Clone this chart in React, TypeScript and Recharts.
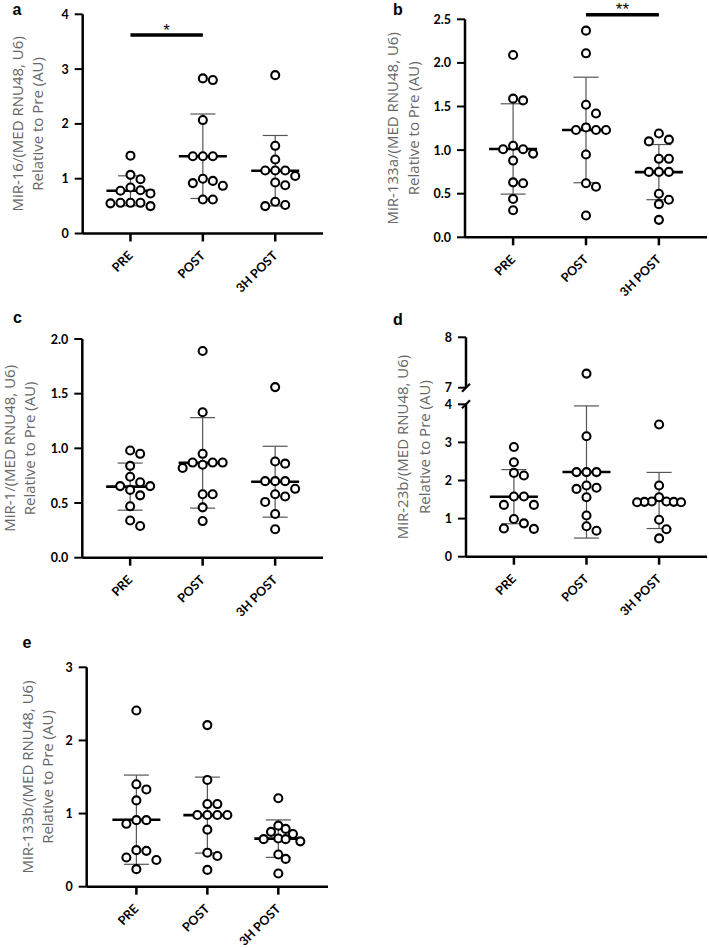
import { ErrorBar, ReferenceLine, Scatter, ScatterChart, XAxis, YAxis } from 'recharts'

const CATEGORIES = ['PRE', 'POST', '3H POST']

// a: MiR-16
const A_PRE = [1.42, 1.07, 0.99, 0.84, 0.79, 0.78, 0.73, 0.56, 0.56, 0.56, 0.55, 0.5]
const A_POST = [2.83, 2.8, 2.07, 1.41, 1.41, 1.41, 1.0, 0.96, 0.92, 0.87, 0.62, 0.62]
const A_3H = [2.89, 1.6, 1.35, 1.15, 1.15, 1.15, 1.05, 0.93, 0.88, 0.58, 0.52, 0.5]
const A_TICKS = [0, 1, 2, 3, 4]

// b: MiR-133a
const B_PRE = [2.09, 1.59, 1.57, 1.05, 1.01, 1.01, 0.96, 0.88, 0.63, 0.62, 0.44, 0.31]
const B_POST = [2.37, 2.11, 1.52, 1.42, 1.26, 1.23, 1.23, 1.23, 0.95, 0.62, 0.58, 0.25]
const B_3H = [1.19, 1.12, 1.1, 0.9, 0.9, 0.75, 0.75, 0.75, 0.5, 0.43, 0.38, 0.2]
const B_TICKS = [0, 0.5, 1, 1.5, 2, 2.5]

// c: MiR-1
const C_PRE = [0.98, 0.95, 0.84, 0.74, 0.69, 0.655, 0.655, 0.62, 0.57, 0.47, 0.34, 0.29]
const C_POST = [1.89, 1.33, 0.95, 0.87, 0.87, 0.87, 0.85, 0.82, 0.58, 0.58, 0.46, 0.335]
const C_3H = [1.56, 0.88, 0.86, 0.7, 0.7, 0.7, 0.63, 0.58, 0.56, 0.51, 0.4, 0.26]
const C_TICKS = [0, 0.5, 1, 1.5, 2]

// d: MiR-23b (broken axis 4 -> 7)
const D_PRE = [2.88, 2.48, 2.2, 2.13, 1.58, 1.58, 1.36, 1.36, 0.99, 0.875, 0.74, 0.73]
const D_POST = [7.28, 3.16, 2.22, 2.22, 2.22, 1.87, 1.81, 1.78, 1.56, 1.08, 0.8, 0.68]
const D_3H = [3.47, 1.87, 1.56, 1.45, 1.45, 1.44, 1.44, 1.43, 1.43, 0.97, 0.72, 0.48]
const D_TICKS_LOW = [0, 1, 2, 3, 4]
const D_TICKS_HIGH = [7, 8]

// e: MiR-133b
const E_PRE = [2.41, 1.4, 1.33, 1.18, 0.91, 0.91, 0.86, 0.5, 0.49, 0.4, 0.365, 0.24]
const E_POST = [2.21, 1.46, 1.13, 1.13, 0.98, 0.98, 0.98, 0.98, 0.78, 0.465, 0.42, 0.23]
const E_3H = [1.21, 0.835, 0.79, 0.75, 0.72, 0.66, 0.65, 0.65, 0.62, 0.44, 0.38, 0.18]
const E_TICKS = [0, 1, 2, 3]

const SUBTITLE = 'Relative to Pre (AU)'

const FONT_TICK = 'Lato, "Open Sans", sans-serif'
const FONT_TITLE = '"Open Sans", sans-serif'
const YW = 40
const XH = 60
const AXIS = { stroke: '#000', strokeWidth: 2.5 }

const mean = (v: number[]) => v.reduce((s, x) => s + x, 0) / v.length
const sd = (v: number[]) => {
  const m = mean(v)
  return Math.sqrt(v.reduce((s, x) => s + (x - m) ** 2, 0) / (v.length - 1))
}

// simple beeswarm: spread points of similar value sideways
function swarm(values: number[], pxPerY: number, pxPerX: number, step = 10, maxHalf = 22) {
  const order = values.map((_, i) => i).sort((a, b) => values[b] - values[a])
  const dx = values.map(() => 0)
  const placed: { x: number; y: number }[] = []
  for (const i of order) {
    const y = values[i] * pxPerY
    for (let k = 0; k < 40; k++) {
      const off = k === 0 ? 0 : (k % 2 ? 1 : -1) * Math.ceil(k / 2) * step
      if (placed.every((p) => Math.hypot(p.x - off, p.y - y) >= step - 0.01)) {
        dx[i] = off
        placed.push({ x: off, y })
        break
      }
    }
  }
  const widest = Math.max(...dx.map(Math.abs))
  const f = widest > maxHalf ? maxHalf / widest : 1
  return dx.map((d) => (d * f) / pxPerX)
}

function Ring({ cx, cy }: any) {
  return <circle cx={cx} cy={cy} r={4} fill="#fff" stroke="#000" strokeWidth={2.1} />
}

function MeanBar({ cx, cy }: any) {
  return <line x1={cx - 24} x2={cx + 24} y1={cy} y2={cy} stroke="#000" strokeWidth={2.6} />
}

function CatTick({ x, y, payload }: any) {
  const tx = x + 3
  const ty = y + 13
  return (
    <text
      x={tx}
      y={ty}
      transform={`rotate(-45 ${tx} ${ty})`}
      textAnchor="end"
      fontFamily={FONT_TICK}
      fontWeight={700}
      fontSize={12.5}
      fill="#000"
    >
      {CATEGORIES[payload.value]}
    </text>
  )
}

function ValTick({ x, y, payload, decimals, breakAt }: any) {
  const ax = x + 14
  return (
    <g>
      <text
        x={x}
        y={y}
        textAnchor="end"
        dominantBaseline="central"
        fontFamily={FONT_TICK}
        fontWeight={700}
        fontSize={12.5}
        fill="#000"
      >
        {Number(payload.value).toFixed(decimals)}
      </text>
      {breakAt === payload.value && (
        <line x1={ax - 4} y1={y + 4} x2={ax + 4} y2={y - 4} stroke="#000" strokeWidth={2.2} />
      )}
    </g>
  )
}

function AxisTitle({ viewBox, lines, offsets, shift = 0 }: any) {
  const ax = viewBox.x + viewBox.width
  const cy = viewBox.y + viewBox.height / 2 + shift
  return (
    <g>
      {lines.map((t: string, i: number) => (
        <text
          key={i}
          x={ax - offsets[i]}
          y={cy}
          transform={`rotate(-90 ${ax - offsets[i]} ${cy})`}
          textAnchor="middle"
          dominantBaseline="central"
          fontFamily={FONT_TITLE}
          fontSize={15}
          fill="#666"
        >
          {t}
        </text>
      ))}
    </g>
  )
}

function SigLabel({ viewBox, text }: any) {
  return (
    <text
      x={viewBox.x + viewBox.width / 2}
      y={viewBox.y + 0.5}
      textAnchor="middle"
      fontFamily='"Liberation Sans", Arial, sans-serif'
      fontSize={17}
      fill="#000"
    >
      {text}
    </text>
  )
}

type PanelProps = {
  box: { left: number; top: number; width: number; height: number }
  plot: { x0: number; x1: number; y0: number; y1: number }
  xDomain: [number, number]
  yDomain: [number, number]
  yTicks: number[]
  decimals: number
  groups: number[][]
  stats?: boolean
  hideX?: boolean
  breakAt?: number
  title?: { lines: string[]; offsets: number[]; shift?: number }
  sig?: { from: number; to: number; y: number; text: string }
}

function Panel({ box, plot, xDomain, yDomain, yTicks, decimals, groups, stats, hideX, breakAt, title, sig }: PanelProps) {
  const pxPerX = (plot.x1 - plot.x0) / (xDomain[1] - xDomain[0])
  const pxPerY = (plot.y1 - plot.y0) / (yDomain[1] - yDomain[0])

  const points = groups.flatMap((vals, gi) => {
    const shown = vals.filter((v) => v >= yDomain[0] && v <= yDomain[1])
    const dx = swarm(shown, pxPerY, pxPerX)
    return shown.map((v, i) => ({ x: gi + dx[i], y: v }))
  })
  const summary = groups.map((vals, gi) => ({ x: gi, y: mean(vals), sd: sd(vals) }))

  const margin = {
    left: plot.x0 - box.left - YW,
    right: box.left + box.width - plot.x1,
    top: plot.y0 - box.top,
    bottom: box.top + box.height - plot.y1 - (hideX ? 0 : XH),
  }

  return (
    <div style={{ position: 'absolute', left: box.left, top: box.top }}>
      <ScatterChart width={box.width} height={box.height} margin={margin}>
        <XAxis
          type="number"
          dataKey="x"
          domain={xDomain}
          ticks={[0, 1, 2]}
          interval={0}
          allowDataOverflow
          hide={hideX}
          height={XH}
          tickSize={8}
          axisLine={AXIS}
          tickLine={AXIS}
          tick={<CatTick />}
        />
        <YAxis
          type="number"
          dataKey="y"
          domain={yDomain}
          ticks={yTicks}
          interval={0}
          allowDataOverflow
          width={YW}
          tickSize={8}
          tickMargin={6}
          axisLine={AXIS}
          tickLine={{ stroke: '#000', strokeWidth: 2 }}
          tick={<ValTick decimals={decimals} breakAt={breakAt} />}
          label={title ? <AxisTitle lines={title.lines} offsets={title.offsets} shift={title.shift} /> : undefined}
        />
        {stats && (
          <Scatter data={summary} shape={<MeanBar />} isAnimationActive={false}>
            <ErrorBar dataKey="sd" direction="y" width={12.5} stroke="#555" strokeWidth={1.2} />
          </Scatter>
        )}
        <Scatter data={points} shape={<Ring />} isAnimationActive={false} />
        {sig && (
          <ReferenceLine
            segment={[
              { x: sig.from, y: sig.y },
              { x: sig.to, y: sig.y },
            ]}
            stroke="#000"
            strokeWidth={3.5}
            ifOverflow="visible"
            label={<SigLabel text={sig.text} />}
          />
        )}
      </ScatterChart>
    </div>
  )
}

const LETTERS = [
  { t: 'a', x: 12.5, y: 14.5 },
  { t: 'b', x: 393, y: 14.5 },
  { t: 'c', x: 13, y: 322.7 },
  { t: 'd', x: 393, y: 325 },
  { t: 'e', x: 22.5, y: 648.3 },
]

export default function App() {
  const xd: [number, number] = [-0.66, 2.66]
  return (
    <div style={{ position: 'absolute', left: 0, top: 0, width: 709, height: 948, background: '#fff' }}>
      <Panel
        box={{ left: 0, top: 0, width: 345, height: 300 }}
        plot={{ x0: 82.7, x1: 323, y0: 14.3, y1: 233.5 }}
        xDomain={xd}
        yDomain={[0, 4]}
        yTicks={A_TICKS}
        decimals={0}
        groups={[A_PRE, A_POST, A_3H]}
        stats
        title={{ lines: ['MiR-16/(MED RNU48, U6)', SUBTITLE], offsets: [66, 46] }}
        sig={{ from: 0, to: 1, y: 3.62, text: '*' }}
      />
      <Panel
        box={{ left: 354, top: 0, width: 355, height: 300 }}
        plot={{ x0: 465, x1: 707, y0: 19.3, y1: 237.3 }}
        xDomain={xd}
        yDomain={[0, 2.5]}
        yTicks={B_TICKS}
        decimals={1}
        groups={[B_PRE, B_POST, B_3H]}
        stats
        title={{ lines: ['MiR-133a/(MED RNU48, U6)', SUBTITLE], offsets: [73, 52] }}
        sig={{ from: 1, to: 2, y: 2.553, text: '**' }}
      />
      <Panel
        box={{ left: 0, top: 300, width: 345, height: 320 }}
        plot={{ x0: 82.3, x1: 323, y0: 339, y1: 557.7 }}
        xDomain={xd}
        yDomain={[0, 2]}
        yTicks={C_TICKS}
        decimals={1}
        groups={[C_PRE, C_POST, C_3H]}
        stats
        title={{ lines: ['MiR-1/(MED RNU48, U6)', SUBTITLE], offsets: [73, 53] }}
      />
      <Panel
        box={{ left: 354, top: 320, width: 355, height: 300 }}
        plot={{ x0: 466, x1: 707, y0: 404.3, y1: 556.7 }}
        xDomain={xd}
        yDomain={[0, 4]}
        yTicks={D_TICKS_LOW}
        decimals={0}
        groups={[D_PRE, D_POST, D_3H]}
        stats
        breakAt={4}
        title={{ lines: ['MiR-23b/(MED RNU48, U6)', SUBTITLE], offsets: [64, 42], shift: -33.5 }}
      />
      <Panel
        box={{ left: 354, top: 320, width: 355, height: 75 }}
        plot={{ x0: 466, x1: 707, y0: 337.3, y1: 387.7 }}
        xDomain={xd}
        yDomain={[7, 8]}
        yTicks={D_TICKS_HIGH}
        decimals={0}
        groups={[D_PRE, D_POST, D_3H]}
        hideX
        breakAt={7}
      />
      <Panel
        box={{ left: 0, top: 630, width: 345, height: 318 }}
        plot={{ x0: 86.7, x1: 328, y0: 667.3, y1: 886.7 }}
        xDomain={[-0.7, 2.7]}
        yDomain={[0, 3]}
        yTicks={E_TICKS}
        decimals={0}
        groups={[E_PRE, E_POST, E_3H]}
        stats
        title={{ lines: ['MiR-133b/(MED RNU48, U6)', SUBTITLE], offsets: [60, 40] }}
      />
      <svg width={709} height={948} style={{ position: 'absolute', left: 0, top: 0, pointerEvents: 'none' }}>
        {LETTERS.map((l) => (
          <text key={l.t} x={l.x} y={l.y} fontFamily='"Liberation Sans", Arial, sans-serif' fontWeight={700} fontSize={16} fill="#000">
            {l.t}
          </text>
        ))}
      </svg>
    </div>
  )
}
